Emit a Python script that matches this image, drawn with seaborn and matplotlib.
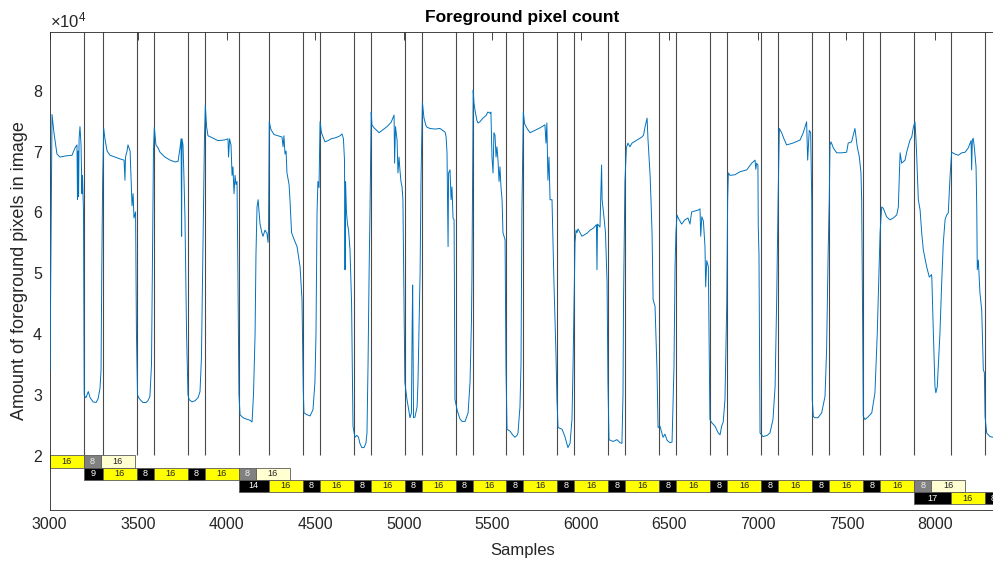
import numpy as np
import pandas as pd
import matplotlib
matplotlib.use("Agg")
import matplotlib.pyplot as plt
import seaborn as sns

# ---------------- data ----------------
samples = [
    3002, 3013, 3024, 3041, 3058, 3092, 3126, 3143, 3154, 3157, 3160, 3163, 3166, 3171, 3177, 3182, 3185, 3191,
    3195, 3199, 3205, 3218, 3228, 3245, 3262, 3273, 3284, 3290, 3294, 3299, 3305,
    3312, 3324, 3341, 3369, 3397, 3420, 3425, 3428, 3437, 3442, 3448, 3454, 3459, 3465, 3471, 3476, 3485, 3490,
    3496, 3502, 3516, 3527, 3544, 3555, 3566, 3575, 3581, 3586, 3591,
    3600, 3612, 3623, 3651, 3680, 3708, 3725, 3736, 3742, 3745, 3747, 3753, 3758, 3764, 3773, 3781,
    3787, 3804, 3821, 3838, 3849, 3857, 3866, 3874, 3879,
    3886, 3894, 3917, 3950, 3985, 4007, 4010, 4016, 4024, 4030, 4035, 4041, 4047, 4052, 4058, 4063, 4069,
    4075, 4092, 4109, 4131, 4143, 4151, 4160, 4165, 4171, 4177, 4188, 4199, 4205, 4216, 4227, 4233, 4236, 4240,
    4250, 4267, 4289, 4312, 4318, 4323, 4329, 4335, 4340, 4352, 4357, 4366, 4380, 4397, 4414, 4425, 4432,
    4436, 4453, 4470, 4487, 4498, 4504, 4510, 4515, 4521, 4527,
    4535, 4544, 4555, 4572, 4589, 4617, 4640, 4651, 4659, 4665, 4668, 4671, 4676, 4682, 4688, 4696, 4705, 4707,
    4713, 4724, 4735, 4744, 4752, 4763, 4775, 4786, 4792, 4798, 4804, 4809, 4816,
    4820, 4832, 4843, 4860, 4883, 4905, 4928, 4939, 4945, 4948, 4953, 4962, 4967, 4973, 4978, 4984, 4990, 4995,
    5001, 5006, 5018, 5035, 5043, 5047, 5050, 5052, 5055, 5063, 5075, 5080, 5089, 5092, 5097, 5105,
    5114, 5125, 5131, 5148, 5176, 5204, 5233, 5239, 5244, 5250, 5253, 5261, 5267, 5272, 5278, 5284,
    5289, 5301, 5317, 5329, 5346, 5363, 5374, 5382, 5385, 5392,
    5396, 5402, 5413, 5419, 5430, 5447, 5464, 5475, 5487, 5492, 5498, 5504, 5509, 5515, 5521, 5526, 5532, 5538,
    5543, 5549, 5555, 5560, 5572, 5577, 5583, 5600, 5617, 5628, 5639, 5645, 5656, 5662, 5667, 5675,
    5682, 5696, 5713, 5741, 5769, 5797, 5803, 5808, 5814, 5820, 5826, 5837, 5848, 5860, 5865,
    5871, 5894, 5910, 5927, 5939, 5950, 5956, 5967, 5973, 5978, 5984, 6006, 6035, 6052, 6069, 6088, 6091, 6094,
    6108, 6117, 6120, 6131, 6139, 6148, 6153, 6159, 6182, 6204, 6221, 6232, 6238, 6241, 6249, 6257,
    6266, 6277, 6289, 6317, 6345, 6354, 6362, 6374, 6379, 6385, 6391, 6396, 6402, 6408, 6419, 6430,
    6436, 6447, 6464, 6475, 6487, 6503, 6515, 6526, 6532, 6537, 6543, 6550, 6569, 6588, 6605, 6616, 6626, 6663,
    6673, 6677, 6683, 6692, 6701, 6705, 6711, 6720, 6729, 6739, 6758, 6776, 6786, 6795, 6804, 6814, 6824, 6829, 6833,
    6842, 6870, 6899, 6937, 6965, 6984, 6988, 6993, 7000, 7002, 7006,
    7012, 7029, 7052, 7068, 7085, 7097, 7106, 7114, 7121,
    7134, 7147, 7162, 7198, 7238, 7256, 7275, 7281, 7290, 7298, 7304,
    7307, 7313, 7322, 7339, 7360, 7379, 7388, 7397, 7403, 7407, 7413,
    7426, 7445, 7473, 7501, 7510, 7529, 7548, 7554, 7561, 7573, 7582, 7586, 7592,
    7595, 7605, 7624, 7643, 7661, 7674, 7690, 7699, 7708, 7727, 7746, 7765, 7784, 7793, 7803, 7812, 7831, 7840,
    7859, 7869, 7878, 7887, 7893, 7897, 7906, 7916, 7925, 7934, 7953, 7968, 7981, 7983, 7990, 8000, 8005, 8013,
    8028, 8038, 8047, 8057, 8066, 8075, 8085, 8094, 8113, 8132, 8151, 8170, 8188, 8204, 8207, 8211, 8216, 8222,
    8232, 8236, 8239, 8245, 8254, 8264, 8273, 8279, 8283, 8292, 8311, 8328,
]
pixel_count = [
    34000, 76000, 73000, 69500, 69000, 69200, 69300, 70500, 71000, 62000, 70000, 62500, 72000, 74000, 71000, 63000, 66000, 60000,
    30000, 29700, 29500, 30500, 29500, 28800, 28700, 29300, 31000, 34000, 50000, 65000, 73700,
    72000, 70000, 69300, 69000, 68700, 68500, 65200, 69000, 70000, 71000, 70500, 70000, 66000, 61000, 63000, 59000, 60000, 40000,
    30000, 29500, 29000, 28700, 28700, 29000, 29700, 35000, 55000, 70000, 73900,
    71000, 70500, 69800, 69000, 68500, 68200, 68300, 70500, 72000, 56000, 72000, 71000, 66000, 59000, 40000, 30000,
    29200, 28800, 29000, 29500, 30500, 36000, 55000, 72000, 77500,
    74000, 72500, 72200, 71700, 71800, 72000, 69000, 72000, 71000, 66000, 67400, 63000, 66000, 64500, 65000, 50000, 30000,
    26700, 26200, 26000, 25800, 25500, 30000, 40000, 53000, 60800, 62000, 58000, 56500, 56000, 57000, 56500, 55000, 57500, 74800,
    73500, 72700, 72500, 72300, 70700, 72500, 69500, 70000, 66400, 64500, 62000, 56600, 55500, 54300, 51000, 45600, 31000,
    27000, 26700, 26500, 27500, 32000, 40000, 60000, 65000, 64000, 74800,
    73000, 72300, 71500, 71700, 72000, 72200, 72500, 72800, 72000, 68500, 50500, 65000, 60000, 58000, 57000, 53800, 45000, 40000,
    24800, 23000, 23300, 23000, 22000, 21300, 21300, 22000, 23700, 35000, 50000, 60000, 76400,
    74300, 73800, 73500, 73000, 73500, 74000, 74700, 75500, 75900, 68000, 74000, 71800, 66400, 69000, 66900, 65000, 64100, 62000,
    45600, 32000, 29200, 26200, 27000, 41000, 48000, 40000, 26200, 26300, 28000, 32000, 45000, 50000, 65000, 78000,
    75400, 74200, 73900, 73700, 73600, 73700, 73100, 72300, 69700, 54300, 66400, 66900, 62000, 64100, 59000, 58700,
    29200, 27500, 26000, 25600, 25600, 27000, 32000, 42000, 50000, 80000,
    78000, 76700, 75000, 74600, 74800, 75400, 75800, 76400, 76200, 76400, 69000, 66400, 73000, 72600, 69000, 70700, 68500, 65000,
    67400, 64000, 62000, 56600, 55400, 34600, 24300, 24000, 23300, 23000, 23300, 23700, 28000, 35000, 60000, 76400,
    74500, 73700, 73000, 73400, 73800, 74300, 71300, 74600, 65200, 69000, 62000, 62000, 48400, 36000, 29200,
    24600, 24300, 23100, 21300, 22000, 26000, 35000, 55000, 57000, 56600, 57200, 56000, 56500, 57000, 57300, 57900, 50500, 58000,
    57500, 67700, 62000, 59000, 56600, 48400, 32000, 22600, 22300, 22600, 22100, 22000, 30000, 45600, 65000, 70500,
    71300, 70700, 71300, 71800, 72300, 72600, 73900, 75400, 72000, 69000, 66000, 62000, 56600, 45600, 44500, 34000,
    24600, 24800, 23000, 23500, 22500, 22100, 22200, 34600, 51000, 56600, 59500, 59000, 58000, 58700, 59000, 58000, 60000, 60300,
    60500, 56000, 59200, 58500, 54300, 47700, 52000, 51000, 25900, 25400, 24800, 23700, 23400, 24800, 25500, 29200, 45000, 62000, 66400,
    66000, 66100, 66600, 66900, 68000, 68500, 67000, 68000, 67700, 57600, 53000,
    23700, 23100, 23300, 23700, 25900, 31300, 45600, 62000, 73700,
    73000, 72000, 71000, 71300, 71800, 73000, 74800, 68500, 73400, 73000, 62000,
    29200, 26400, 26200, 26200, 27000, 29700, 37400, 53800, 62000, 71000, 71500,
    70500, 69700, 69700, 69800, 71300, 71500, 73700, 72300, 70700, 69000, 66400, 62000, 40000,
    26400, 25900, 26400, 27000, 30300, 40000, 56600, 60800, 60600, 59200, 58700, 59000, 59500, 60800, 69700, 68000, 68500, 69800,
    71800, 72300, 73900, 74800, 71800, 69000, 62000, 60300, 56600, 53800, 51000, 49300, 49700, 48500, 41100, 31300, 30300, 31300,
    40000, 48400, 54900, 58700, 59500, 59800, 65700, 69800, 69500, 69300, 69700, 69800, 70500, 71700, 66900, 71800, 72100, 70700,
    67400, 60800, 50500, 52100, 46700, 43900, 34100, 33600, 26400, 23700, 23100, 23000,
]

# timeline band (durations in units of 12 samples)
unit_samples = 12
row_starts = [3000, 3192, 4068, 7884]
row_durations = [
    [16, 8, 16],
    [9, 16, 8, 16, 8, 16, 8, 16],
    [14, 16, 8, 16, 8, 16, 8, 16, 8, 16, 8, 16, 8, 16, 8, 16, 8, 16, 8, 16, 8, 16, 8, 16, 8, 16, 8, 16],
    [17, 16, 8, 16],
]
row_kinds = [
    ["Y", "G", "L"],
    ["B", "Y", "B", "Y", "B", "Y", "G", "L"],
    ["B", "Y", "B", "Y", "B", "Y", "B", "Y", "B", "Y", "B", "Y", "B", "Y", "B", "Y", "B", "Y", "B", "Y", "B", "Y", "B", "Y", "B", "Y", "G", "L"],
    ["B", "Y", "B", "Y"],
]
row_tops = [20000, 18000, 16000, 14000]
row_height = 2000

x_ticks = [3000, 3500, 4000, 4500, 5000, 5500, 6000, 6500, 7000, 7500, 8000]
y_ticks = [20000, 30000, 40000, 50000, 60000, 70000, 80000]

# ---------------- style ----------------
sns.set_style("white")
plt.rcParams["font.family"] = ["Liberation Sans", "DejaVu Sans"]
plt.rcParams["mathtext.fontset"] = "custom"
plt.rcParams["mathtext.rm"] = "Liberation Sans"
plt.rcParams["mathtext.it"] = "Liberation Sans"

W, H = 993, 563
fig = plt.figure(figsize=(W / 100, H / 100), dpi=100)
left_px, right_px, top_px, bot_px = 49.7, 995.0, 31.7, 510.0
ax = fig.add_axes([left_px / W, 1 - bot_px / H, (right_px - left_px) / W, (bot_px - top_px) / H])

xmin = 3000
xmax = 3000 + (right_px - left_px) * 5.648
ymin, ymax = 11050, 89590

# vertical transition lines
line_x = []
for start, durs, kinds in zip(row_starts, row_durations, row_kinds):
    pos = start
    for d, k in zip(durs, kinds):
        end = pos + d * unit_samples
        if k in ("B", "Y"):
            for v in (pos, end):
                if v > xmin and v not in line_x:
                    line_x.append(v)
        pos = end
ax.vlines(line_x, 20000, ymax, colors="#4a4a4a", linewidth=0.8, zorder=1)

# timeline band
fill = {"Y": "#FFFF00", "G": "#808080", "L": "#FFFFD2", "B": "#000000"}
txtc = {"Y": "#222222", "G": "#F0F0F0", "L": "#222222", "B": "#FFFFFF"}
for start, durs, kinds, top in zip(row_starts, row_durations, row_kinds, row_tops):
    pos = start
    for d, k in zip(durs, kinds):
        w = d * unit_samples
        ax.barh(top - row_height / 2, w, left=pos, height=row_height, color=fill[k],
                edgecolor="#5a5a5a", linewidth=0.6, align="center", zorder=2)
        cx = pos + w / 2
        if xmin < cx < xmax:
            ax.text(cx, top - row_height / 2, str(d), ha="center", va="center",
                    fontsize=6.6, color=txtc[k], zorder=3, clip_on=True)
        pos += w

# signal
df = pd.DataFrame({"Samples": samples, "count": pixel_count})
sns.lineplot(data=df, x="Samples", y="count", ax=ax, color="#0072BD", linewidth=0.7,
             sort=False, estimator=None, zorder=4)

ax.set_xlim(xmin, xmax)
ax.set_ylim(ymin, ymax)
ax.set_xticks(x_ticks)
ax.set_yticks(y_ticks)
ax.ticklabel_format(axis="y", style="sci", scilimits=(4, 4), useMathText=True)
ax.yaxis.get_offset_text().set_fontsize(12)
ax.yaxis.get_offset_text().set_color("#262626")

ax.tick_params(direction="in", length=5.5, width=0.6, top=True, right=False,
               labelsize=11.5, colors="#262626", pad=5)
for s in ax.spines.values():
    s.set_color("#262626")
    s.set_linewidth(0.6)

ax.set_xlabel("Samples", fontsize=12, color="#262626", labelpad=8)
ax.set_ylabel("Amount of foreground pixels in image", fontsize=13, color="#262626", labelpad=3)
ax.set_title("Foreground pixel count", fontsize=12.5, fontweight="bold", color="#000000", pad=7)

fig.savefig("out.png", dpi=100)
